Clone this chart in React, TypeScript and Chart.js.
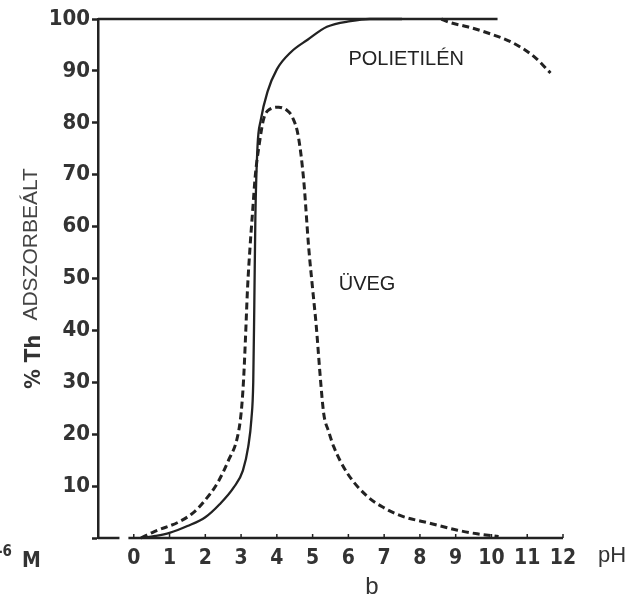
import React, { useEffect, useRef } from "react";
import { Chart, registerables } from "chart.js";

Chart.register(...registerables);

// pH axis ticks and ranges
const X_MIN = -1;
const X_MAX = 12;
const X_TICKS = [0, 1, 2, 3, 4, 5, 6, 7, 8, 9, 10, 11, 12];
const X_AXIS_SEGMENTS = [[-1, -0.4], [-0.15, 12]];
const Y_TICKS = [10, 20, 30, 40, 50, 60, 70, 80, 90, 100];

// Polietilén (solid)
const PE_X = [0.2, 0.6, 1.0, 1.5, 2.0, 2.4, 2.8, 3.05, 3.2, 3.29, 3.34, 3.37, 3.4, 3.46, 3.55, 3.74, 4.0, 4.39, 4.86, 5.4, 6.06, 6.6, 7.5];
const PE_Y = [0, 0.4, 1.0, 2.3, 4, 6.5, 9.8, 13, 17.6, 23, 30, 45, 62, 75.5, 80.5, 86, 90.3, 93.6, 96, 98.5, 99.6, 100, 100];

// 100 % top line
const TOP_X = [-1, 10.17];
const TOP_Y = [100, 100];

// Polietilén high-pH branch (dashed)
const PE_HIGH_X = [8.6, 8.8, 9.33, 9.9, 10.6, 11.2, 11.65];
const PE_HIGH_Y = [100, 99.4, 98.5, 97.3, 95.4, 92.7, 89.6];

// Üveg (dashed)
const GLASS_X = [0.2, 0.56, 1.26, 1.65, 1.96, 2.34, 2.65, 2.9, 3.0, 3.07, 3.12, 3.18, 3.25, 3.32, 3.4, 3.5, 3.63, 3.8, 4.05, 4.3, 4.44, 4.6, 4.75, 4.89, 5.0, 5.1, 5.22, 5.31, 5.45, 5.59, 5.97, 6.53, 7.0, 7.46, 8.3, 9.05, 9.6, 10.2];
const GLASS_Y = [0, 1.2, 3.1, 4.8, 7, 10.6, 15, 19.5, 24, 30.5, 38, 48, 56, 62.7, 70, 75.5, 80.7, 82.6, 83, 82.3, 81, 77.4, 69, 56, 48, 41, 30.5, 24, 20.5, 17.6, 12.5, 8, 5.8, 4.3, 2.8, 1.5, 0.8, 0.3];

// Labels
const LABELS = [
  { text: "POLIETILÉN", x: 6.0, y: 91.1 },
  { text: "ÜVEG", x: 5.73, y: 47.8 },
];

const INK = "#222";
const TICK_FONT = "'DejaVu Sans Condensed', 'DejaVu Sans', sans-serif";

const zip = (xs: number[], ys: number[]) => xs.map((x, i) => ({ x, y: ys[i] }));

const extras = {
  id: "extras",
  afterDraw(chart: any) {
    const { ctx, scales } = chart;
    const xs = scales.x;
    const ys = scales.y;
    const axisY = ys.getPixelForValue(0);
    ctx.save();
    // x axis line in two segments
    ctx.strokeStyle = INK;
    ctx.lineWidth = 2.5;
    for (const [a, b] of X_AXIS_SEGMENTS) {
      ctx.beginPath();
      ctx.moveTo(xs.getPixelForValue(a), axisY);
      ctx.lineTo(xs.getPixelForValue(b), axisY);
      ctx.stroke();
    }
    // small tick marks above axis
    ctx.lineWidth = 1.5;
    for (const v of X_TICKS) {
      const px = xs.getPixelForValue(v);
      ctx.beginPath();
      ctx.moveTo(px, axisY - 4);
      ctx.lineTo(px, axisY);
      ctx.stroke();
    }
    // curve labels
    ctx.fillStyle = INK;
    ctx.font = "20px 'Liberation Sans', Arial, sans-serif";
    ctx.textBaseline = "alphabetic";
    ctx.textAlign = "left";
    for (const l of LABELS) {
      ctx.fillText(l.text, xs.getPixelForValue(l.x), ys.getPixelForValue(l.y));
    }
    // pH
    ctx.font = "22px 'Liberation Sans', Arial, sans-serif";
    ctx.fillStyle = "#333";
    ctx.fillText("pH", xs.right + 35, axisY + 24);
    // b
    ctx.font = "24px 'Liberation Sans', Arial, sans-serif";
    ctx.textAlign = "center";
    ctx.fillText("b", 372, 594);
    // -6 M
    ctx.textAlign = "left";
    ctx.font = `bold 15px ${TICK_FONT}`;
    ctx.fillText("-6", -3, 556);
    ctx.font = `bold 21px ${TICK_FONT}`;
    ctx.fillText("M", 22, 567);
    // y title
    const cy = (ys.top + ys.bottom) / 2;
    ctx.translate(40, cy);
    ctx.rotate(-Math.PI / 2);
    const f1 = `bold 22px ${TICK_FONT}`;
    const f2 = "21px 'Liberation Sans', Arial, sans-serif";
    ctx.font = f1;
    const w1 = ctx.measureText("% Th").width;
    ctx.font = f2;
    const w2 = ctx.measureText("ADSZORBEÁLT").width;
    const gap = 14;
    const total = w1 + gap + w2;
    ctx.font = f1;
    ctx.fillStyle = "#333";
    ctx.fillText("% Th", -total / 2, 0);
    ctx.font = f2;
    ctx.fillStyle = "#444";
    ctx.fillText("ADSZORBEÁLT", -total / 2 + w1 + gap, -3);
    ctx.restore();
  },
};

export default function App() {
  const ref = useRef<HTMLCanvasElement | null>(null);
  useEffect(() => {
    document.body.style.margin = "0";
    const canvas = ref.current;
    if (!canvas) return;
    const chart = new Chart(canvas, {
      type: "line",
      data: {
        datasets: [
          {
            label: "top",
            data: zip(TOP_X, TOP_Y),
            borderColor: INK,
            borderWidth: 2.5,
            pointRadius: 0,
            clip: false as any,
          },
          {
            label: "POLIETILÉN",
            data: zip(PE_X, PE_Y),
            borderColor: INK,
            borderWidth: 2.3,
            pointRadius: 0,
            cubicInterpolationMode: "monotone",
            clip: false as any,
          },
          {
            label: "POLIETILÉN high pH",
            data: zip(PE_HIGH_X, PE_HIGH_Y),
            borderColor: INK,
            borderWidth: 3,
            borderDash: [7, 4],
            pointRadius: 0,
            cubicInterpolationMode: "monotone",
            clip: false as any,
          },
          {
            label: "ÜVEG",
            data: zip(GLASS_X, GLASS_Y),
            borderColor: INK,
            borderWidth: 3,
            borderDash: [7, 4],
            pointRadius: 0,
            cubicInterpolationMode: "monotone",
            clip: false as any,
          },
        ],
      },
      options: {
        animation: false,
        responsive: false,
        devicePixelRatio: 1,
        layout: { padding: { left: 0, right: 73, top: 19, bottom: 0 } },
        plugins: { legend: { display: false }, tooltip: { enabled: false } },
        scales: {
          x: {
            type: "linear",
            min: X_MIN,
            max: X_MAX,
            afterFit: (s: any) => { s.height = 68; },
            afterBuildTicks: (s: any) => { s.ticks = [X_MIN, ...X_TICKS].map((v) => ({ value: v })); },
            grid: { display: false, drawTicks: false },
            border: { display: false },
            ticks: {
              padding: 8,
              autoSkip: false,
              maxRotation: 0,
              color: "#333",
              font: { family: TICK_FONT, size: 21, weight: "bold" },
              callback: (v: any) => (v === X_MIN ? "" : String(v)),
            },
          },
          y: {
            type: "linear",
            min: 0,
            max: 100,
            afterFit: (s: any) => { s.width = 98; },
            afterBuildTicks: (s: any) => { s.ticks = [0, ...Y_TICKS].map((v) => ({ value: v })); },
            grid: { drawOnChartArea: false, tickLength: 6, color: INK, tickWidth: 2.5 } as any,
            border: { display: true, color: INK, width: 2.5 },
            ticks: {
              padding: 2,
              color: "#333",
              font: { family: TICK_FONT, size: 22, weight: "bold" },
              callback: (v: any) => (v === 0 ? "" : String(v)),
            },
          },
        },
      },
      plugins: [extras],
    });
    return () => chart.destroy();
  }, []);
  return (
    <div style={{ width: 636, height: 606, background: "#fff" }}>
      <canvas ref={ref} width={636} height={606} style={{ display: "block" }} />
    </div>
  );
}
